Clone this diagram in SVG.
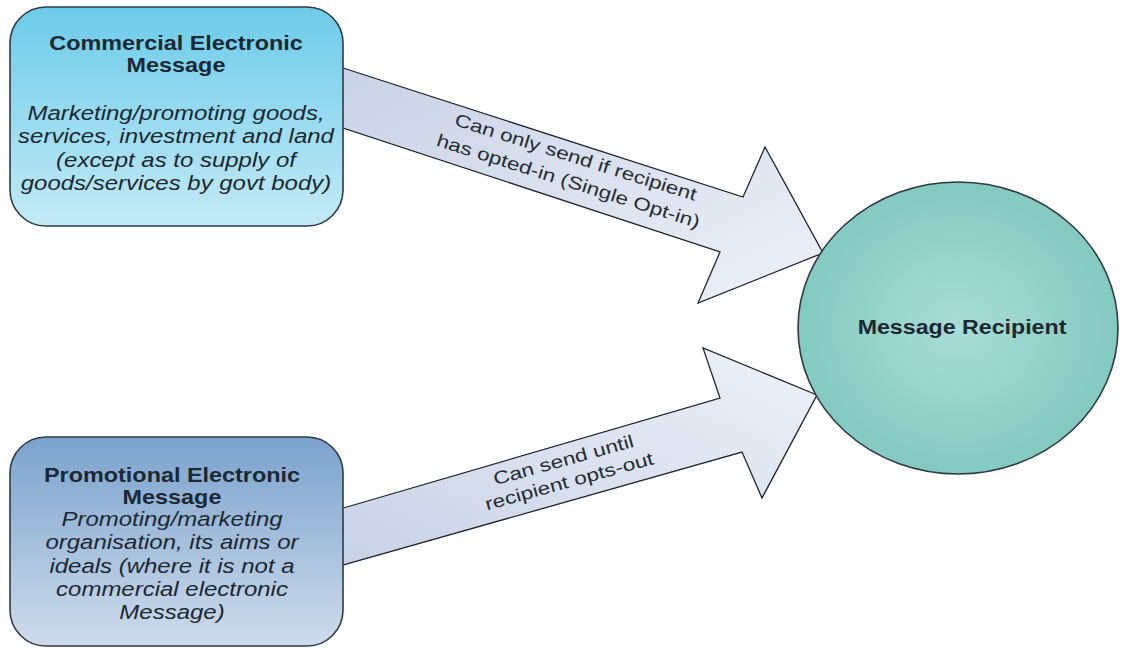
<svg xmlns="http://www.w3.org/2000/svg" width="1123" height="649" viewBox="0 0 1123 649">
<defs>
<linearGradient id="gTop" x1="0" y1="0" x2="0" y2="1">
<stop offset="0" stop-color="#6ccbe9"/>
<stop offset="1" stop-color="#c4eaf6"/>
</linearGradient>
<linearGradient id="gBot" x1="0" y1="0" x2="0" y2="1">
<stop offset="0" stop-color="#7aa2cd"/>
<stop offset="1" stop-color="#cfdcec"/>
</linearGradient>
<radialGradient id="gEll" cx="0.5" cy="0.5" r="0.55">
<stop offset="0" stop-color="#a9ddd6"/>
<stop offset="1" stop-color="#80c8be"/>
</radialGradient>
<linearGradient id="gArrow" x1="0" y1="0" x2="1" y2="1">
<stop offset="0" stop-color="#c8d2e7"/>
<stop offset="1" stop-color="#eef1f7"/>
</linearGradient>
<linearGradient id="gArrow2" x1="0" y1="1" x2="1" y2="0">
<stop offset="0" stop-color="#c8d2e7"/>
<stop offset="1" stop-color="#eef1f7"/>
</linearGradient>
</defs>
<style>
.box{stroke:#2f3b44;stroke-width:1.6}
.arrow{stroke:#1f262b;stroke-width:1.3;stroke-linejoin:miter}
text{font-family:"Liberation Sans",Arial,sans-serif;fill:#1c2832;text-anchor:middle}
.title{font-weight:bold;font-size:20px}
.desc{font-style:italic;font-size:20.5px}
.lbl{font-size:18px;fill:#252c33}
</style>
<rect width="1123" height="649" fill="#ffffff"/>
<g id="connectors">
<polygon class="arrow" fill="url(#gArrow)" points="340,67 743,197 765,147 823,253 698,303 720,252 340,127"/>
<polygon class="arrow" fill="url(#gArrow2)" points="340,509 720,398 703,348 817,395 762,498 742,452 340,566"/>
<g transform="translate(574,163) rotate(17.5) scale(1.25,1)">
<text class="lbl" x="0" y="0">Can only send if recipient</text>
<text class="lbl" x="0" y="25">has opted-in (Single Opt-in)</text>
</g>
<g transform="translate(565,466) rotate(-15.5) scale(1.26,1)">
<text class="lbl" x="0" y="0">Can send until</text>
<text class="lbl" x="0" y="22">recipient opts-out</text>
</g>
</g>
<g id="commercial">
<rect class="box" x="10" y="7" width="333" height="219" rx="36" ry="36" fill="url(#gTop)"/>
<g transform="translate(176,0) scale(1.17,1)">
<text class="title" x="0" y="50">Commercial Electronic</text>
<text class="title" x="0" y="72">Message</text>
<text class="desc" x="0" y="120">Marketing/promoting goods,</text>
<text class="desc" x="0" y="143">services, investment and land</text>
<text class="desc" x="0" y="167">(except as to supply of</text>
<text class="desc" x="0" y="190">goods/services by govt body)</text>
</g>
</g>
<g id="promotional">
<rect class="box" x="10" y="437" width="333" height="209" rx="36" ry="36" fill="url(#gBot)"/>
<g transform="translate(172,0) scale(1.17,1)">
<text class="title" x="0" y="482">Promotional Electronic</text>
<text class="title" x="0" y="504">Message</text>
<text class="desc" x="0" y="526">Promoting/marketing</text>
<text class="desc" x="0" y="549">organisation, its aims or</text>
<text class="desc" x="0" y="573">ideals (where it is not a</text>
<text class="desc" x="0" y="596">commercial electronic</text>
<text class="desc" x="0" y="619">Message)</text>
</g>
</g>
<g id="recipient">
<ellipse class="box" cx="958" cy="328" rx="160" ry="146" fill="url(#gEll)"/>
<g transform="translate(962,0) scale(1.16,1)">
<text class="title" x="0" y="334">Message Recipient</text>
</g>
</g>
</svg>
